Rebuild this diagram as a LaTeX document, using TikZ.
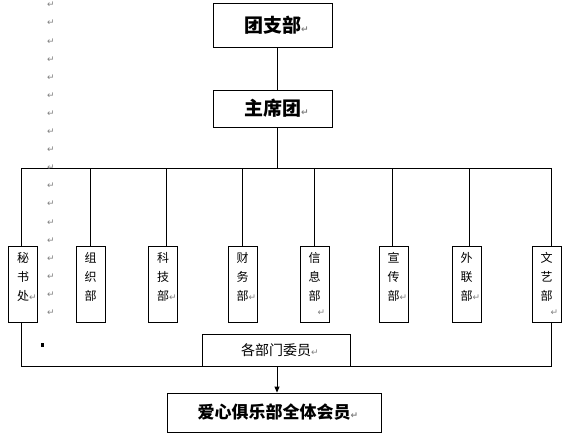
\documentclass[tikz,border=0pt]{standalone}
\usepackage{fontspec}
\newfontfamily\cjk{Noto Sans CJK SC}
\newfontfamily\markfont{DejaVu Sans}
\usetikzlibrary{arrows.meta}
\definecolor{markgray}{RGB}{128,128,128}
\newcommand{\pmark}{{\markfont\fontsize{9}{9}\selectfont\textcolor{markgray}{↵}}}

\tikzset{
  box/.style={draw,line width=0.8pt,inner sep=0pt},
  dept/.style={box,minimum width=29pt,minimum height=76pt,anchor=north},
  depttext/.style={anchor=north,align=center,inner sep=0pt,font=\cjk\fontsize{12}{19}\selectfont},
  pm/.style={inner sep=0pt},
}

\begin{document}
\begin{tikzpicture}[x=1pt,y=-1pt,line width=0.8pt]
\useasboundingbox (0,0) rectangle (573,436);

\coordinate (spine) at (277,168);
\coordinate (busL) at (21,168);
\coordinate (busR) at (551,168);
\coordinate (botL) at (21,366);
\coordinate (botR) at (551,366);

\node[box,minimum width=119pt,minimum height=44pt,font=\cjk\bfseries\fontsize{19}{19}\selectfont] (tuan) at (272.5,25) {团支部\rlap{\pmark}};
\node[box,minimum width=119pt,minimum height=37pt,font=\cjk\bfseries\fontsize{19}{19}\selectfont] (zhuxi) at (272.5,108.5) {主席团\rlap{\pmark}};

\draw (tuan.south -| spine) -- (zhuxi.north -| spine);
\draw (zhuxi.south -| spine) -- (spine);
\draw (busL) -- (busR);

% departments
\foreach \n/\cx/\dx/\txt in {
  mishu/23/21/{秘\\书\\处\rlap{\pmark}},
  zuzhi/90.5/90/{组\\织\\部},
  keji/163/166/{科\\技\\部\rlap{\pmark}},
  caiwu/242.5/242/{财\\务\\部\rlap{\pmark}},
  xinxi/314.5/314/{信\\息\\部\\[-4pt]\hspace*{14pt}\pmark},
  xuanchuan/393.5/392/{宣\\传\\部\rlap{\pmark}},
  wailian/466.5/469/{外\\联\\部\rlap{\pmark}},
  wenyi/546.5/551/{文\\艺\\部\\[-4pt]\hspace*{16pt}\pmark}}{
  \node[dept] (\n) at (\cx,246) {};
  \node[depttext] (\n-t) at (\cx,252) {\txt};
  \coordinate (\n-bus) at (\dx,168);
  \draw (\n-bus) -- (\n-bus |- \n.north);
}

\draw (mishu.south -| botL) -- (botL) -- (botR) -- (wenyi.south -| botR);

\node[box,minimum width=148pt,minimum height=32pt,font=\cjk\fontsize{14}{14}\selectfont] (weiyuan) at (276,350) {各部门委员\rlap{\pmark}};
\node[box,minimum width=214pt,minimum height=39pt,font=\cjk\bfseries\fontsize{17}{17}\selectfont] (quanti) at (274,412.5) {爱心俱乐部全体会员\rlap{\pmark}};

\draw[-{Triangle[length=6pt,width=5pt]}] (weiyuan.south -| spine) -- (quanti.north -| spine);

% paragraph marks
\foreach \k in {0,...,17}
  \node[pm] (m\k) at (51,{5+18.1*\k}) {\pmark};

\fill (40.5,343) rectangle (44,346.5);
\end{tikzpicture}
\end{document}
